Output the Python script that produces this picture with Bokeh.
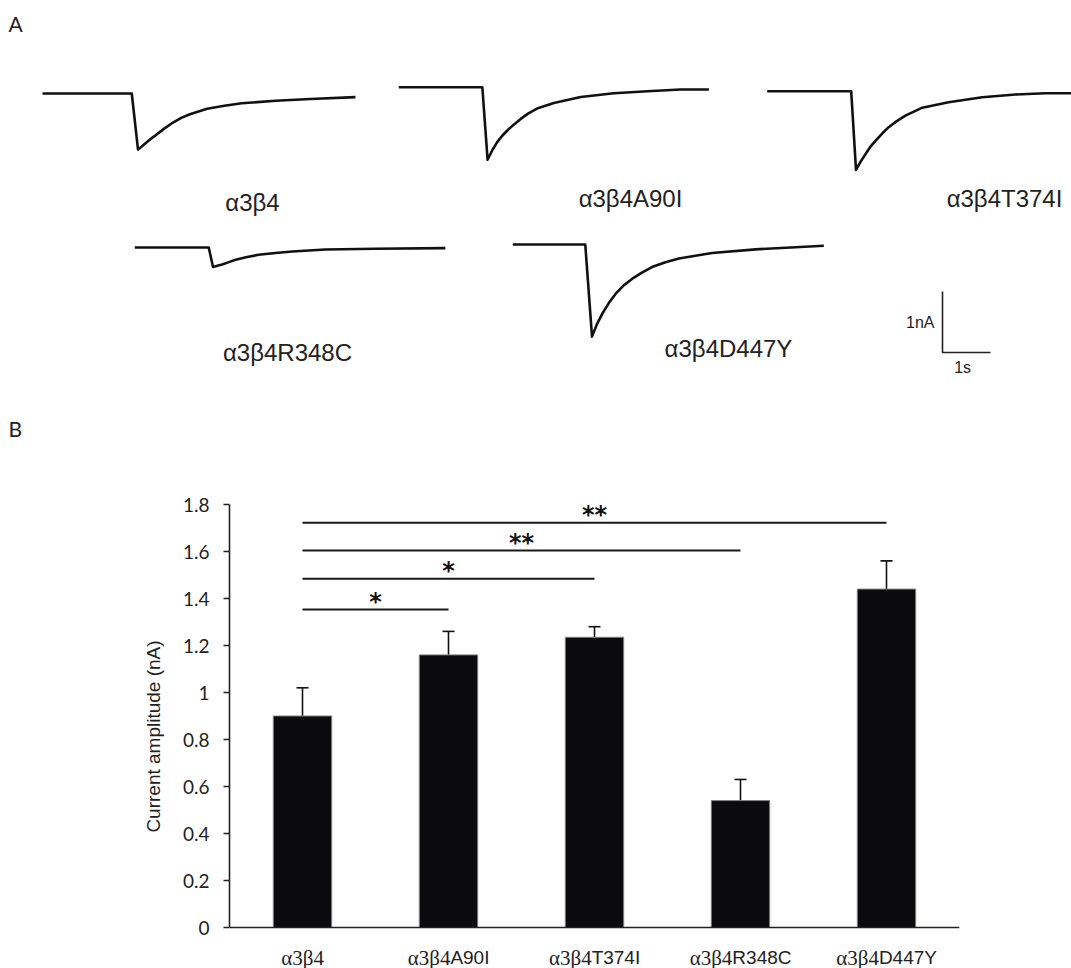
import numpy as np
from bokeh.plotting import figure
from bokeh.models import (Range1d, ColumnDataSource, Whisker, TeeHead, Span,
                          FixedTicker, FactorRange)
from bokeh.core.properties import value
from bokeh.embed import file_html
from bokeh.resources import INLINE

# ---------------- Panel A data: current traces (time in s, current in nA, relative to trace start) -------------
trace_labels = ["α3β4", "α3β4A90I", "α3β4T374I", "α3β4R348C", "α3β4D447Y"]

t_a3b4 = [0, 1.86, 1.99, 2.08, 2.17, 2.26, 2.35, 2.53, 2.71, 2.89, 3.07, 3.43, 3.79, 4.15, 4.86, 5.58, 6.52]
i_a3b4 = [0, 0, -0.92, -0.86, -0.80, -0.74, -0.69, -0.58, -0.48, -0.40, -0.34, -0.25, -0.20, -0.16, -0.12, -0.09, -0.06]

t_a90i = [0, 1.74, 1.85, 1.95, 2.05, 2.15, 2.26, 2.40, 2.54, 2.70, 2.88, 3.23, 3.79, 4.48, 5.18, 5.87, 6.46]
i_a90i = [0, 0, -1.19, -1.03, -0.90, -0.80, -0.71, -0.61, -0.52, -0.43, -0.35, -0.26, -0.16, -0.10, -0.066, -0.038, -0.038]

t_t374i = [0, 1.75, 1.85, 1.95, 2.05, 2.15, 2.26, 2.40, 2.53, 2.70, 2.88, 3.23, 3.78, 4.48, 5.17, 5.80, 6.34]
i_t374i = [0, 0, -1.29, -1.15, -1.03, -0.91, -0.81, -0.69, -0.59, -0.49, -0.40, -0.27, -0.18, -0.10, -0.054, -0.033, -0.033]

t_r348c = [0, 1.54, 1.63, 1.72, 1.82, 1.96, 2.10, 2.34, 2.58, 2.93, 3.28, 3.97, 5.01, 6.47]
i_r348c = [0, 0, -0.32, -0.30, -0.28, -0.24, -0.20, -0.155, -0.12, -0.09, -0.066, -0.033, -0.021, -0.011]

t_d447y = [0, 1.51, 1.65, 1.75, 1.86, 2.00, 2.14, 2.31, 2.49, 2.69, 2.90, 3.18, 3.46, 4.15, 5.06, 5.89, 6.48]
i_d447y = [0, 0, -1.51, -1.31, -1.14, -0.96, -0.81, -0.67, -0.56, -0.46, -0.37, -0.29, -0.23, -0.14, -0.08, -0.044, -0.02]

traces_t = [t_a3b4, t_a90i, t_t374i, t_r348c, t_d447y]
traces_i = [i_a3b4, i_a90i, i_t374i, i_r348c, i_d447y]

scale_bar_current = 1.0   # nA
scale_bar_time = 1.0      # s

# ---------------- Panel B data: current amplitude -------------
categories = ["α3β4", "α3β4A90I", "α3β4T374I", "α3β4R348C", "α3β4D447Y"]
amplitudes = [0.90, 1.16, 1.235, 0.54, 1.44]
sem = [0.12, 0.10, 0.045, 0.09, 0.12]
compared_index = [1, 2, 3, 4]
bracket_heights = [1.353, 1.484, 1.604, 1.722]
stars = ["*", "*", "**", "**"]
y_ticks = [0, 0.2, 0.4, 0.6, 0.8, 1.0, 1.2, 1.4, 1.6, 1.8]
y_max = 1.8

# ---------------- layout ----------------
W = 1071
HA = 440
HB = 968 - HA
PX_PER_S = 48.0
PX_PER_NA = 61.0

def ax(px):
    return px / PX_PER_S

def ay(py):
    return -py / PX_PER_NA

pa = figure(width=W, height=HA, x_range=Range1d(0, W / PX_PER_S),
            y_range=Range1d(-HA / PX_PER_NA, 0), output_backend="svg",
            toolbar_location=None, min_border=0, x_axis_location=None,
            y_axis_location=None)
pa.outline_line_color = None
pa.xgrid.visible = False
pa.ygrid.visible = False

trace_origin_px = [(42, 93), (398.3, 86.7), (766.7, 90.7), (134.3, 247), (512.3, 244)]
label_pos_px = [(252, 202), (630, 198), (1004, 198), (287, 352), (728, 348)]

for (ox, oy), tt, ii in zip(trace_origin_px, traces_t, traces_i):
    xs = np.array(tt) + ax(ox)
    ys = np.array(ii) + ay(oy)
    pa.line(xs, ys, line_color="#111111", line_width=2.6, line_join="round")

pa.text(x=[ax(p[0]) for p in label_pos_px], y=[ay(p[1]) for p in label_pos_px],
        text=trace_labels, text_align="center", text_baseline="middle",
        text_font=value("Liberation Sans"), text_font_size="24px", text_color="#222222")

# scale bar
sb_x, sb_y = ax(942), ay(352)
pa.line([sb_x, sb_x, sb_x + scale_bar_time], [sb_y + scale_bar_current, sb_y, sb_y],
        line_color="#222222", line_width=1.6)
pa.text(x=[sb_x], y=[sb_y + scale_bar_current / 2], text=["%gnA" % scale_bar_current],
        text_align="right", text_baseline="middle", x_offset=-8,
        text_font=value("Liberation Sans"), text_font_size="16px", text_color="#222222")
pa.text(x=[sb_x + scale_bar_time / 2 - 0.08], y=[sb_y], text=["%gs" % scale_bar_time],
        text_align="center", text_baseline="top", y_offset=6,
        text_font=value("Liberation Sans"), text_font_size="16px", text_color="#222222")

# panel letters
pa.text(x=[ax(8)], y=[ay(23)], text=["A"], text_align="left", text_baseline="middle",
        text_font=value("Lato"), text_font_size="21px", text_color="#222222")
pa.text(x=[ax(8)], y=[ay(428)], text=["B"], text_align="left", text_baseline="middle",
        text_font=value("Lato"), text_font_size="21px", text_color="#222222")

# ---------------- Panel B ----------------
TOP_B = 64
PX_PER_UNIT = 235.0
y_min = y_max - (HB - TOP_B) / PX_PER_UNIT
pb = figure(width=W, height=HB, x_range=FactorRange(factors=categories),
            y_range=Range1d(y_min, y_max), output_backend="svg", toolbar_location=None,
            min_border_left=229, min_border_right=112, min_border_top=TOP_B,
            min_border_bottom=0, x_axis_location=None)
pb.outline_line_color = None
pb.xgrid.visible = False
pb.ygrid.visible = False

src = ColumnDataSource(dict(cat=categories, amp=amplitudes,
                            upper=[a + s for a, s in zip(amplitudes, sem)]))
pb.vbar(x="cat", top="amp", width=0.4, source=src, fill_color="#0b0b0d",
        line_color="#808080", line_width=1)
pb.add_layout(Whisker(source=src, base="cat", upper="upper", lower="amp",
                      dimension="height", line_color="#111111", line_width=1.6,
                      upper_head=TeeHead(size=12, line_width=1.6, line_color="#111111"),
                      lower_head=None))
# x baseline (category axis line)
pb.add_layout(Span(location=0, dimension="width", line_color="#222222", line_width=1.6))

# significance brackets
pb.segment(x0=[categories[0]] * len(compared_index),
           y0=bracket_heights,
           x1=[categories[j] for j in compared_index],
           y1=bracket_heights, line_color="#1a1a1a", line_width=2)
star_x = [(0 + j) / 2 + 0.5 for j in compared_index]
pb.text(x=star_x, y=bracket_heights, text=stars, text_align="center",
        text_baseline="alphabetic", y_offset=-8, text_font=value("DejaVu Sans"),
        text_font_style="bold", text_font_size="24px", text_color="#111111")

# y axis
pb.yaxis.bounds = (0, y_max)
pb.yaxis.ticker = FixedTicker(ticks=y_ticks)
pb.yaxis.major_label_overrides = {0: "0", 1: "1"}
pb.yaxis.minor_tick_line_color = None
pb.yaxis.major_tick_in = 0
pb.yaxis.major_tick_out = 6
pb.yaxis.major_tick_line_width = 1.6
pb.yaxis.major_tick_line_color = "#222222"
pb.yaxis.axis_line_width = 1.6
pb.yaxis.axis_line_color = "#222222"
pb.yaxis.major_label_standoff = 14
pb.yaxis.major_label_text_font = "Lato"
pb.yaxis.major_label_text_font_size = "19px"
pb.yaxis.major_label_text_color = "#222222"
pb.yaxis.axis_label = "Current amplitude (nA)"
pb.yaxis.axis_label_text_font = "Liberation Sans"
pb.yaxis.axis_label_text_font_style = "normal"
pb.yaxis.axis_label_text_font_size = "19px"
pb.yaxis.axis_label_text_color = "#222222"
pb.yaxis.axis_label_standoff = 16

# category labels: Greek prefix in serif, mutation suffix in sans
SERIF_W = {"α": 0.54, "β": 0.50, "3": 0.5, "4": 0.5}
SANS_W = {"A": 0.667, "9": 0.556, "0": 0.556, "I": 0.278, "T": 0.611, "3": 0.556,
          "7": 0.556, "4": 0.556, "R": 0.722, "8": 0.556, "C": 0.722, "D": 0.722, "Y": 0.667}
PREFIX_SIZE = 21
SUFFIX_SIZE = 19
prefixes = ["α3β4"] * len(categories)
suffixes = [c[len("α3β4"):] for c in categories]
split_offsets = []
for pre, suf in zip(prefixes, suffixes):
    pw = sum(SERIF_W.get(ch, 0.5) for ch in pre) * PREFIX_SIZE
    sw = sum(SANS_W.get(ch, 0.6) for ch in suf) * SUFFIX_SIZE
    split_offsets.append((pw - sw) / 2)
lab_src = ColumnDataSource(dict(x=[i + 0.5 for i in range(len(categories))],
                                y=[0] * len(categories), pre=prefixes, suf=suffixes,
                                off=split_offsets))
pb.text(x="x", y="y", text="pre", source=lab_src, x_offset="off", y_offset=30,
        text_align="right", text_baseline="middle", text_font=value("Liberation Serif"),
        text_font_size=f"{PREFIX_SIZE}px", text_color="#222222")
pb.text(x="x", y="y", text="suf", source=lab_src, x_offset="off", y_offset=30,
        text_align="left", text_baseline="middle", text_font=value("Liberation Sans"),
        text_font_size=f"{SUFFIX_SIZE}px", text_color="#222222")

open("out.html", "w").write(file_html([pa, pb], INLINE))
